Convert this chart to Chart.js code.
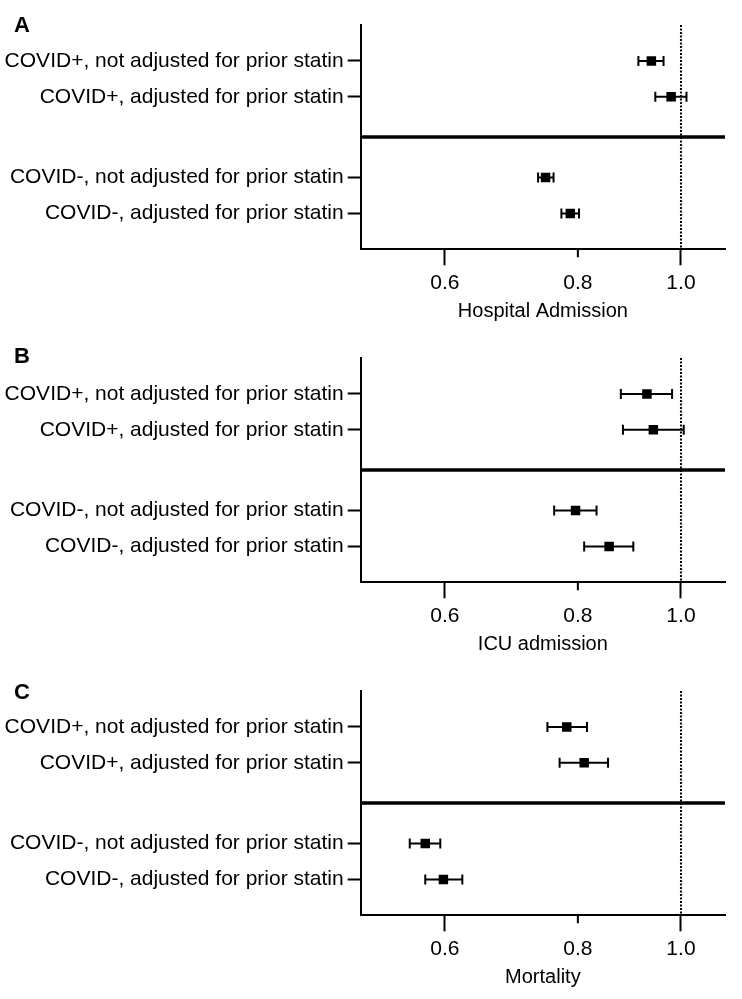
<!DOCTYPE html>
<html>
<head>
<meta charset="utf-8">
<script src="https://cdn.jsdelivr.net/npm/chart.js@4.4.1/dist/chart.umd.min.js"></script>
<style>
html,body{margin:0;padding:0;background:#fff;}
#wrap{width:742px;height:999px;position:relative;overflow:hidden;}
canvas{display:block;}
</style>
</head>
<body>
<div id="wrap">
<canvas id="cA" width="742" height="333"></canvas>
<canvas id="cB" width="742" height="333"></canvas>
<canvas id="cC" width="742" height="333"></canvas>
</div>
<script>
// ---------- data ----------
const categories = [
  'COVID+, not adjusted for prior statin',
  'COVID+, adjusted for prior statin',
  'COVID-, not adjusted for prior statin',
  'COVID-, adjusted for prior statin'
];
const panelLetters = ['A', 'B', 'C'];
const outcomeTitles = ['Hospital Admission', 'ICU admission', 'Mortality'];
const xTickValues = [0.6, 0.8, 1.0];
const nullValue = 1.0;

const hospitalEstimate = [0.938, 0.979, 0.746, 0.787];
const hospitalLower    = [0.912, 0.946, 0.734, 0.772];
const hospitalUpper    = [0.963, 1.012, 0.759, 0.802];

const icuEstimate = [0.929, 0.942, 0.796, 0.856];
const icuLower    = [0.878, 0.882, 0.760, 0.811];
const icuUpper    = [0.981, 1.006, 0.833, 0.902];

const mortalityEstimate = [0.781, 0.811, 0.575, 0.598];
const mortalityLower    = [0.749, 0.769, 0.556, 0.575];
const mortalityUpper    = [0.816, 0.854, 0.594, 0.623];

// ---------- layout (not data) ----------
const rowSlots = [1, 2, 4.25, 5.25];   // vertical slot of each category on the y axis
const separatorSlot = 3.12;
const yMax = 6.25;
const xMin = 0.5, xMax = 1.1;
const letterBaselines = [32, 29.7, 33.3];

Chart.defaults.font.family = "'Liberation Sans', Arial, Helvetica, sans-serif";
Chart.defaults.color = '#000';

const errorBarPlugin = {
  id: 'errorBars',
  beforeDatasetsDraw(chart) {
    const {ctx, scales: {x, y}} = chart;
    const pts = chart.data.datasets[0].data;
    ctx.save();
    ctx.strokeStyle = '#000';
    ctx.lineWidth = 2;
    pts.forEach(p => {
      const py = y.getPixelForValue(p.y);
      const xl = x.getPixelForValue(p.lo);
      const xh = x.getPixelForValue(p.hi);
      ctx.beginPath();
      ctx.moveTo(xl, py); ctx.lineTo(xh, py);
      ctx.moveTo(xl, py - 5); ctx.lineTo(xl, py + 5);
      ctx.moveTo(xh, py - 5); ctx.lineTo(xh, py + 5);
      ctx.stroke();
    });
    ctx.restore();
  }
};

const decoPlugin = {
  id: 'deco',
  afterDraw(chart, args, opts) {
    const {ctx, scales: {x}} = chart;
    ctx.save();
    // short minor tick at 0.8
    const px = x.getPixelForValue(0.8);
    ctx.strokeStyle = '#000';
    ctx.lineWidth = 2;
    ctx.beginPath();
    ctx.moveTo(px, x.top);
    ctx.lineTo(px, x.top + 8);
    ctx.stroke();
    // panel letter
    ctx.fillStyle = '#000';
    ctx.font = "bold 22px 'Liberation Sans', Arial, sans-serif";
    ctx.textBaseline = 'alphabetic';
    ctx.textAlign = 'left';
    ctx.fillText(opts.letter, 14, opts.baseline);
    ctx.restore();
  }
};

function makePanel(canvasId, idx, est, lo, hi) {
  const points = est.map((v, i) => ({x: v, y: rowSlots[i], lo: lo[i], hi: hi[i]}));
  return new Chart(document.getElementById(canvasId), {
    type: 'scatter',
    data: {
      datasets: [
        {
          label: outcomeTitles[idx],
          data: points,
          pointStyle: 'rect',
          pointRadius: 6.7,
          pointHoverRadius: 6.7,
          backgroundColor: '#000',
          borderColor: '#000',
          borderWidth: 0,
          order: 0
        },
        {
          label: 'null',
          data: [{x: nullValue, y: 0}, {x: nullValue, y: yMax}],
          showLine: true,
          borderColor: '#000',
          borderWidth: 2,
          borderDash: [2, 1.5],
          pointRadius: 0,
          order: 2
        },
        {
          label: 'separator',
          data: [{x: xMin, y: separatorSlot}, {x: xMax, y: separatorSlot}],
          showLine: true,
          borderColor: '#000',
          borderWidth: 3.5,
          pointRadius: 0,
          order: 1
        }
      ]
    },
    options: {
      responsive: false,
      animation: false,
      events: [],
      layout: {padding: {top: 25, right: 17, bottom: 10, left: 0}},
      plugins: {
        legend: {display: false},
        tooltip: {enabled: false},
        deco: {letter: panelLetters[idx], baseline: letterBaselines[idx]}
      },
      scales: {
        x: {
          type: 'logarithmic',
          position: 'bottom',
          min: xMin,
          max: xMax,
          afterBuildTicks: s => { s.ticks = xTickValues.map(v => ({value: v})); },
          border: {display: true, color: '#000', width: 2},
          grid: {
            drawOnChartArea: false,
            drawTicks: true,
            tickLength: 16,
            tickWidth: 2,
            tickColor: c => (c.tick && Math.abs(c.tick.value - 0.8) < 1e-9) ? 'rgba(0,0,0,0)' : '#000'
          },
          ticks: {
            color: '#000',
            font: {size: 21},
            padding: 5,
            maxRotation: 0,
            autoSkip: false,
            callback: v => Number(v).toFixed(1)
          },
          title: {
            display: true,
            text: outcomeTitles[idx],
            color: '#000',
            font: {size: 20},
            padding: {top: -1.5, bottom: 0}
          }
        },
        y: {
          type: 'linear',
          position: 'left',
          min: 0,
          max: yMax,
          reverse: true,
          afterBuildTicks: s => { s.ticks = rowSlots.map(v => ({value: v})); },
          afterFit: s => { s.width = 360.7; },
          border: {display: true, color: '#000', width: 2},
          grid: {
            drawOnChartArea: false,
            drawTicks: true,
            tickLength: 13,
            tickWidth: 2,
            tickColor: '#000'
          },
          ticks: {
            color: '#000',
            font: {size: 21},
            padding: 4,
            autoSkip: false,
            callback: (v, i) => categories[i]
          }
        }
      }
    },
    plugins: [errorBarPlugin, decoPlugin]
  });
}

makePanel('cA', 0, hospitalEstimate, hospitalLower, hospitalUpper);
makePanel('cB', 1, icuEstimate, icuLower, icuUpper);
makePanel('cC', 2, mortalityEstimate, mortalityLower, mortalityUpper);
</script>
</body>
</html>
